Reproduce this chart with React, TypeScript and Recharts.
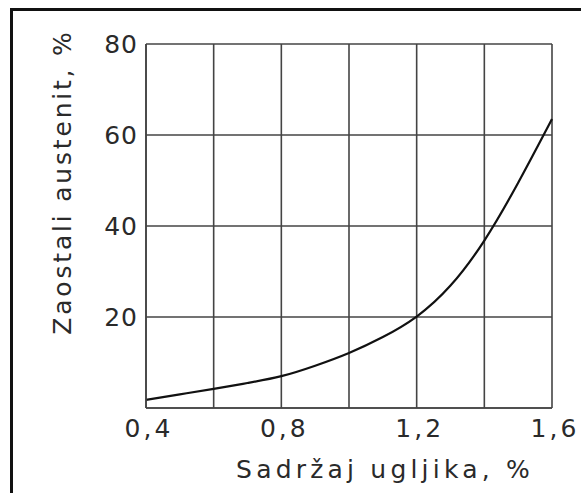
import { LineChart, Line, XAxis, YAxis, CartesianGrid } from 'recharts'

const carbon = [0.4, 0.5, 0.6, 0.7, 0.8, 0.9, 1.0, 1.1, 1.2, 1.3, 1.4, 1.5, 1.6]
const austenite = [1.8, 3, 4.2, 5.5, 7, 9.3, 12.1, 15.6, 20.1, 26.9, 36.8, 49.5, 63.5]
const xTicks = [0.4, 0.6, 0.8, 1.0, 1.2, 1.4, 1.6]
const xLabeled = [0.4, 0.8, 1.2, 1.6]
const yTicks = [0, 20, 40, 60, 80]
const yLabeled = [20, 40, 60, 80]

const data = carbon.map((c, i) => ({ c, v: austenite[i] }))

const font = '"DejaVu Sans", sans-serif'
const ink = '#2a2a2a'

function XTick({ x, y, payload }: any) {
    if (!xLabeled.some((t) => Math.abs(t - payload.value) < 1e-6)) return null
    const txt = payload.value.toFixed(1).replace('.', ',')
    return (
        <text x={x + 3} y={y + 21} textAnchor="middle" fontFamily={font} fontSize={25} fill={ink} letterSpacing={3}>
            {txt}
        </text>
    )
}

function YTick({ x, y, payload }: any) {
    if (!yLabeled.includes(payload.value)) return null
    return (
        <text x={x} y={y + 9} textAnchor="end" fontFamily={font} fontSize={25} fill={ink} letterSpacing={1}>
            {payload.value}
        </text>
    )
}

export default function App() {
    return (
        <div style={{ position: 'absolute', left: 0, top: 0, width: 581, height: 493, background: '#fff' }}>
            <div style={{ position: 'absolute', left: 10, top: 8, right: 0, bottom: 0, borderTop: '3px solid #111', borderLeft: '3px solid #111' }} />
            <LineChart width={581} height={493} data={data} margin={{ top: 44, right: 29, bottom: 55, left: 86 }}>
                <CartesianGrid stroke="#444" strokeWidth={1.6} />
                <XAxis
                    dataKey="c"
                    type="number"
                    domain={[0.4, 1.6]}
                    ticks={xTicks}
                    tick={<XTick />}
                    tickLine={false}
                    height={30}
                    axisLine={{ stroke: '#444', strokeWidth: 1.6 }}
                    label={{ value: 'Sadržaj ugljika, %', position: 'insideBottom', dx: 36, offset: -40, fontFamily: font, fontSize: 25, fill: ink, letterSpacing: 4.2 } as any}
                />
                <YAxis
                    type="number"
                    domain={[0, 80]}
                    ticks={yTicks}
                    tick={<YTick />}
                    tickLine={false}
                    width={60}
                    axisLine={{ stroke: '#444', strokeWidth: 1.6 }}
                    label={{ value: 'Zaostali austenit, %', angle: -90, position: 'insideLeft', dx: -29, dy: -44, fontFamily: font, fontSize: 25, fill: ink, letterSpacing: 2.8, textAnchor: 'middle' } as any}
                />
                <Line type="natural" dataKey="v" stroke="#111" strokeWidth={2.2} dot={false} isAnimationActive={false} />
            </LineChart>
        </div>
    )
}
